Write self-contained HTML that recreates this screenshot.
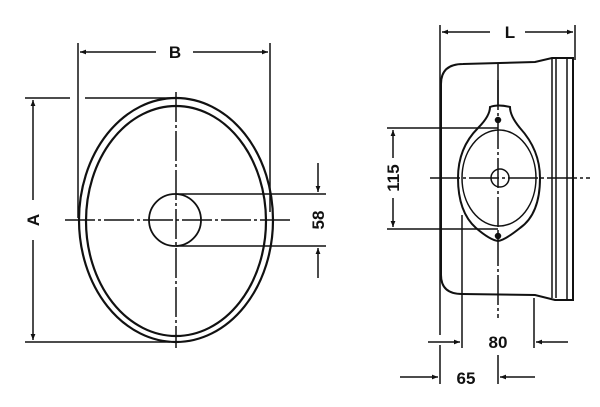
<!DOCTYPE html>
<html><head><style>html,body{margin:0;padding:0;background:#fff;}svg{display:block}</style></head>
<body>
<svg width="600" height="407" viewBox="0 0 600 407" xmlns="http://www.w3.org/2000/svg" font-family="Liberation Sans, sans-serif" font-weight="bold">
<defs>
<marker id="ar" viewBox="0 0 10 10" refX="10" refY="5" markerWidth="9" markerHeight="6" orient="auto-start-reverse" markerUnits="userSpaceOnUse"><path d="M0,1 L10,5 L0,9 z" fill="#111"/></marker>
</defs>
<g stroke="#111" fill="none" stroke-width="1.5">
<!-- left view -->
<line x1="78" y1="43" x2="78" y2="218"/>
<line x1="270" y1="43" x2="270" y2="212"/>
<line x1="80" y1="52" x2="156" y2="52" marker-start="url(#ar)"/>
<line x1="193" y1="52" x2="268" y2="52" marker-end="url(#ar)"/>
<ellipse cx="176" cy="220" rx="97" ry="122" stroke-width="2.2"/>
<ellipse cx="176" cy="221" rx="90" ry="115" stroke-width="2.2"/>
<circle cx="175" cy="220" r="26" stroke-width="1.8"/>
<line x1="65" y1="220" x2="290" y2="220" stroke-dasharray="30,3,3,3"/>
<line x1="176" y1="92" x2="176" y2="348" stroke-dasharray="30,3,3,3"/>
<line x1="25" y1="98" x2="70" y2="98"/>
<line x1="85" y1="98" x2="175" y2="98"/>
<line x1="25" y1="342" x2="170" y2="342"/>
<line x1="33" y1="100" x2="33" y2="200" marker-start="url(#ar)"/>
<line x1="33" y1="240" x2="33" y2="340" marker-end="url(#ar)"/>
<line x1="176" y1="194" x2="326" y2="194"/>
<line x1="176" y1="246" x2="326" y2="246"/>
<line x1="318" y1="163" x2="318" y2="192" marker-end="url(#ar)"/>
<line x1="318" y1="278" x2="318" y2="248" marker-end="url(#ar)"/>
<!-- right view -->
<line x1="440" y1="25" x2="440" y2="335"/>
<line x1="575" y1="25" x2="575" y2="60"/>
<line x1="442" y1="32" x2="490" y2="32" marker-start="url(#ar)"/>
<line x1="525" y1="32" x2="573" y2="32" marker-end="url(#ar)"/>
<path d="M441,275 L441,84 Q441,64 463,64 L535,62 L552,58 L573,58 L573,300 L555,300 L535,295 L462,294 Q441,294 441,275 Z" stroke-width="2"/>
<line x1="552" y1="58" x2="552" y2="298"/>
<line x1="556" y1="58" x2="556" y2="298"/>
<line x1="567" y1="58" x2="567" y2="300"/>
<line x1="498" y1="64" x2="498" y2="106"/>
<path d="M490,107 Q498,104 510,107 Q510,116 520,128 Q540,150 540,178 Q540,214 520,228 Q505,240 498,241 Q490,240 476,228 Q458,212 458,178 Q458,148 478,128 Q490,116 490,107 Z" stroke-width="2"/>
<ellipse cx="499" cy="178" rx="37" ry="48"/>
<circle cx="500" cy="178" r="9"/>
<circle cx="498" cy="120" r="2.5" fill="#111"/>
<circle cx="498" cy="236" r="2.5" fill="#111"/>
<line x1="430" y1="178" x2="590" y2="178" stroke-dasharray="30,3,3,3"/>
<line x1="498" y1="80" x2="498" y2="318" stroke-dasharray="30,3,3,3"/>
<line x1="387" y1="128" x2="498" y2="128"/>
<line x1="387" y1="229" x2="498" y2="229"/>
<line x1="393" y1="130" x2="393" y2="158" marker-start="url(#ar)"/>
<line x1="393" y1="198" x2="393" y2="227" marker-end="url(#ar)"/>
<line x1="462" y1="215" x2="462" y2="348"/>
<line x1="534" y1="298" x2="534" y2="348"/>
<line x1="428" y1="342" x2="460" y2="342" marker-end="url(#ar)"/>
<line x1="568" y1="342" x2="536" y2="342" marker-end="url(#ar)"/>
<line x1="440" y1="345" x2="440" y2="384"/>
<line x1="498" y1="355" x2="498" y2="384"/>
<line x1="400" y1="377" x2="438" y2="377" marker-end="url(#ar)"/>
<line x1="535" y1="377" x2="500" y2="377" marker-end="url(#ar)"/>
</g>
<g fill="#111" font-size="17" text-anchor="middle">
<text x="175" y="58">B</text>
<text x="510" y="38">L</text>
<text transform="translate(39,220) rotate(-90)">A</text>
<text transform="translate(324,220) rotate(-90)">58</text>
<text transform="translate(399,178) rotate(-90)">115</text>
<text x="498" y="348">80</text>
<text x="466" y="384">65</text>
</g>
</svg>
</body></html>
